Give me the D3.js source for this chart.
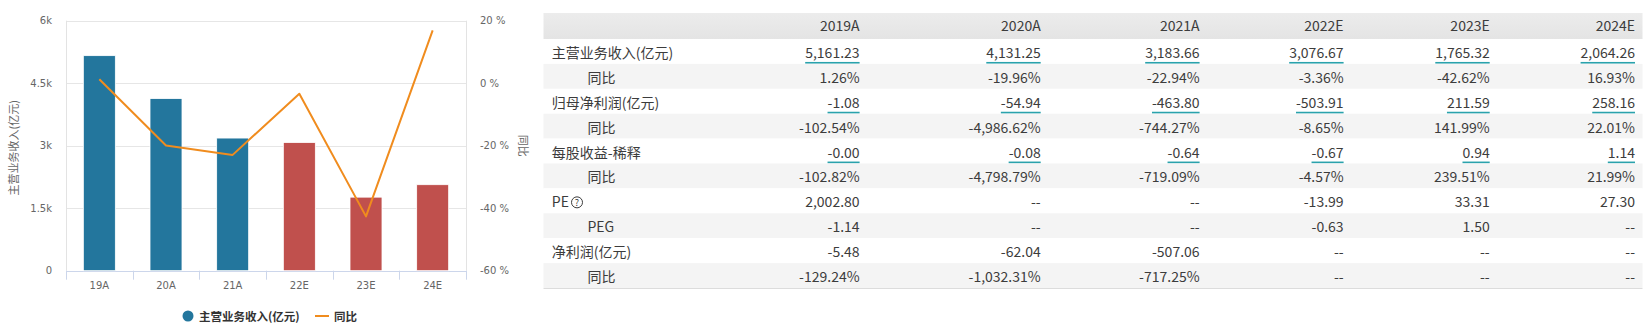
<!DOCTYPE html>
<html><head><meta charset="utf-8">
<script src="https://cdn.jsdelivr.net/npm/d3@7"></script>
<style>
html,body{margin:0;padding:0;background:#fff;}
svg{display:block;}
</style></head>
<body>
<svg id="c" width="1652" height="335"></svg>
<script>
// ---- chart data ----
const categories = ["19A","20A","21A","22E","23E","24E"];
const revenue = [5161.23, 4131.25, 3183.66, 3076.67, 1765.32, 2064.26];
const yoy = [1.26, -19.96, -22.94, -3.36, -42.62, 16.93];
const leftTicks = [0, 1500, 3000, 4500, 6000];
const leftTickLabels = ["0", "1.5k", "3k", "4.5k", "6k"];
const rightTicks = [-60, -40, -20, 0, 20];
const rightTickLabels = ["-60 %", "-40 %", "-20 %", "0 %", "20 %"];
const leftTitle = "主营业务收入(亿元)";
const rightTitle = "同比";
const legendLabels = ["主营业务收入(亿元)", "同比"];

// ---- table data ----
const tableYears = ["2019A","2020A","2021A","2022E","2023E","2024E"];
const rowLabels = ["主营业务收入(亿元)","同比","归母净利润(亿元)","同比","每股收益-稀释","同比","PE","PEG","净利润(亿元)","同比"];
const rowIndent = [false,true,false,true,false,true,false,true,false,true];
const rowUnderline = [true,false,true,false,true,false,false,false,false,false];
const rowRevenue = ["5,161.23","4,131.25","3,183.66","3,076.67","1,765.32","2,064.26"];
const rowRevenueYoy = ["1.26%","-19.96%","-22.94%","-3.36%","-42.62%","16.93%"];
const rowNetProfit = ["-1.08","-54.94","-463.80","-503.91","211.59","258.16"];
const rowNetProfitYoy = ["-102.54%","-4,986.62%","-744.27%","-8.65%","141.99%","22.01%"];
const rowEps = ["-0.00","-0.08","-0.64","-0.67","0.94","1.14"];
const rowEpsYoy = ["-102.82%","-4,798.79%","-719.09%","-4.57%","239.51%","21.99%"];
const rowPe = ["2,002.80","--","--","-13.99","33.31","27.30"];
const rowPeg = ["-1.14","--","--","-0.63","1.50","--"];
const rowProfit = ["-5.48","-62.04","-507.06","--","--","--"];
const rowProfitYoy = ["-129.24%","-1,032.31%","-717.25%","--","--","--"];
const tableRows = [rowRevenue,rowRevenueYoy,rowNetProfit,rowNetProfitYoy,rowEps,rowEpsYoy,rowPe,rowPeg,rowProfit,rowProfitYoy];

const svg = d3.select("#c");
const axisFont = "'DejaVu Sans', Verdana, sans-serif";
const cjkFont = "'Noto Sans CJK SC', 'Noto Sans', sans-serif";

// ---------------- CHART ----------------
const P = {left: 66, right: 466, top: 20.7, bottom: 270.7};
const x = d3.scaleBand().domain(categories).range([P.left, P.right]).paddingInner(0.52).paddingOuter(0.26);
const xb = d3.scaleBand().domain(categories).range([P.left, P.right]);
const yL = d3.scaleLinear().domain([0, 6000]).range([P.bottom, P.top]);
const yR = d3.scaleLinear().domain([-60, 20]).range([P.bottom, P.top]);

const g = svg.append("g");
g.selectAll(".grid").data(leftTicks).join("line")
  .attr("x1", P.left).attr("x2", P.right)
  .attr("y1", d => Math.round(yL(d)) + 0.5).attr("y2", d => Math.round(yL(d)) + 0.5)
  .attr("stroke", "#e6e6e6").attr("stroke-width", 1);
[P.left, P.right].forEach(px => {
  g.append("line").attr("x1", px + 0.5).attr("x2", px + 0.5).attr("y1", P.top).attr("y2", P.bottom)
   .attr("stroke", "#e3e3e3");
});
g.append("line").attr("x1", P.left).attr("x2", P.right)
  .attr("y1", Math.round(P.bottom) + 0.5).attr("y2", Math.round(P.bottom) + 0.5)
  .attr("stroke", "#ccd6eb");
const bounds = categories.map(c => xb(c)).concat([P.right]);
g.selectAll(".xt").data(bounds).join("line")
  .attr("x1", d => Math.round(d) + 0.5).attr("x2", d => Math.round(d) + 0.5)
  .attr("y1", P.bottom).attr("y2", P.bottom + 9)
  .attr("stroke", "#ccd6eb");
g.selectAll(".xl").data(categories).join("text")
  .attr("x", d => xb(d) + xb.bandwidth() / 2).attr("y", 289)
  .attr("text-anchor", "middle").attr("font-family", axisFont).attr("font-size", 10)
  .attr("fill", "#666").text(d => d);
g.selectAll(".yl").data(leftTicks).join("text")
  .attr("x", 52).attr("y", d => yL(d) + 3.5)
  .attr("text-anchor", "end").attr("font-family", axisFont).attr("font-size", 10)
  .attr("fill", "#666").text((d, i) => leftTickLabels[i]);
g.selectAll(".yr").data(rightTicks).join("text")
  .attr("x", 480).attr("y", d => yR(d) + 3.5)
  .attr("text-anchor", "start").attr("font-family", axisFont).attr("font-size", 10)
  .attr("fill", "#666").text((d, i) => rightTickLabels[i]);
g.append("text").attr("transform", `translate(18,${(P.top + P.bottom) / 2 + 2}) rotate(-90)`)
  .attr("text-anchor", "middle").attr("font-family", cjkFont).attr("font-size", 11)
  .attr("fill", "#666").text(leftTitle);
g.append("text").attr("transform", `translate(519,${(P.top + P.bottom) / 2}) rotate(90)`)
  .attr("text-anchor", "middle").attr("font-family", cjkFont).attr("font-size", 11)
  .attr("fill", "#666").text(rightTitle);

const barColor = c => c.endsWith("E") ? "#c0504d" : "#23769d";
g.selectAll(".bar").data(categories).join("rect")
  .attr("x", d => x(d)).attr("width", x.bandwidth())
  .attr("y", (d, i) => yL(revenue[i])).attr("height", (d, i) => yL(0) - yL(revenue[i]))
  .attr("fill", d => barColor(d)).attr("stroke", "#fff").attr("stroke-width", 0.8);

const line = d3.line().x((d, i) => xb(categories[i]) + xb.bandwidth() / 2).y(d => yR(d));
g.append("path").datum(yoy).attr("d", line).attr("fill", "none")
  .attr("stroke", "#f08c1e").attr("stroke-width", 2).attr("stroke-linejoin", "round");

const lg = svg.append("g");
lg.append("circle").attr("cx", 188).attr("cy", 316).attr("r", 5.5).attr("fill", "#23769d");
lg.append("text").attr("x", 199).attr("y", 320.5).attr("font-family", cjkFont).attr("font-size", 11.5)
  .attr("font-weight", "bold").attr("fill", "#333").text(legendLabels[0]);
lg.append("line").attr("x1", 315).attr("x2", 329).attr("y1", 316).attr("y2", 316)
  .attr("stroke", "#f08c1e").attr("stroke-width", 2);
lg.append("text").attr("x", 334).attr("y", 320.5).attr("font-family", cjkFont).attr("font-size", 11.5)
  .attr("font-weight", "bold").attr("fill", "#333").text(legendLabels[1]);

// ---------------- TABLE ----------------
const T = {left: 543.5, right: 1642.5, headTop: 13, headH: 26, rowH: 24.9};
const colRight = [859.6, 1040.7, 1199.6, 1343.6, 1489.7, 1635];
const colX = d3.scaleOrdinal().domain(tableYears).range(colRight);
const tg = svg.append("g").attr("font-family", cjkFont).attr("font-size", 14).attr("fill", "#3c3c3c");

const defs = svg.append("defs");
const grad = defs.append("linearGradient").attr("id", "hg").attr("x1", 0).attr("x2", 0).attr("y1", 0).attr("y2", 1);
grad.append("stop").attr("offset", 0).attr("stop-color", "#ececec");
grad.append("stop").attr("offset", 1).attr("stop-color", "#e4e4e4");

tg.append("rect").attr("x", T.left).attr("y", T.headTop).attr("width", T.right - T.left).attr("height", T.headH)
  .attr("fill", "url(#hg)");
tg.selectAll(".hd").data(tableYears).join("text")
  .attr("x", d => colX(d)).attr("y", T.headTop + T.headH / 2 + 5)
  .attr("text-anchor", "end").text(d => d);

const rowTop = i => T.headTop + T.headH + i * T.rowH;
tg.selectAll(".rb").data(rowLabels).join("rect")
  .attr("x", T.left).attr("width", T.right - T.left)
  .attr("y", (d, i) => rowTop(i)).attr("height", T.rowH)
  .attr("fill", (d, i) => i % 2 ? "#f4f4f4" : "#fff");
tg.append("line").attr("x1", T.left).attr("x2", T.right)
  .attr("y1", rowTop(rowLabels.length) + 0.5).attr("y2", rowTop(rowLabels.length) + 0.5)
  .attr("stroke", "#dcdcdc");

rowLabels.forEach((lab, i) => {
  const cy = rowTop(i) + T.rowH / 2 + 1.5;
  tg.append("text").attr("x", rowIndent[i] ? 587.5 : 551.8).attr("y", cy + 5).text(lab);
  if (lab === "PE") {
    tg.append("circle").attr("cx", 577).attr("cy", cy).attr("r", 5.5)
      .attr("fill", "none").attr("stroke", "#3c3c3c").attr("stroke-width", 1);
    tg.append("text").attr("x", 577).attr("y", cy + 3.5).attr("text-anchor", "middle")
      .attr("font-size", 9).text("?");
  }
  tableRows[i].forEach((v, j) => {
    const t = tg.append("text").attr("x", colX(tableYears[j])).attr("y", cy + 5)
      .attr("text-anchor", "end").text(v);
    if (rowUnderline[i]) {
      const w = t.node().getComputedTextLength();
      tg.append("rect").attr("x", colX(tableYears[j]) - w).attr("y", cy + 9)
        .attr("width", w).attr("height", 1.6).attr("fill", "#2aa2ac");
    }
  });
});
</script>
</body></html>
